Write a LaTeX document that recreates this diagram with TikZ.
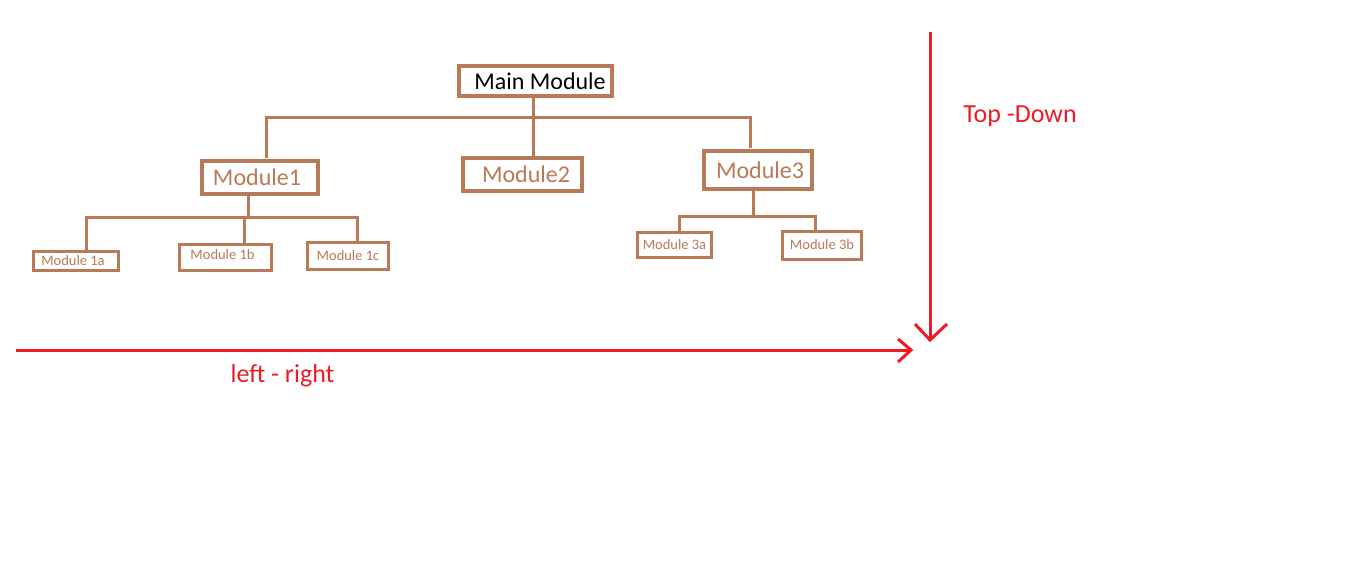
\documentclass[tikz,border=0pt]{standalone}
\usepackage{fontspec}
\setmainfont{Carlito}
\definecolor{brn}{RGB}{185,122,87}
\definecolor{pred}{RGB}{237,28,36}
\tikzset{
  bigbox/.style={draw=brn, line width=4pt, inner sep=0pt, text=brn, font=\fontsize{24}{28}\selectfont},
  smallbox/.style={draw=brn, line width=3pt, inner sep=0pt, text=brn, font=\fontsize{14.5}{17}\selectfont},
  conn/.style={draw=brn, line width=3pt, line cap=rect},
  redline/.style={draw=pred, line width=3pt},
  redtext/.style={text=pred, font=\fontsize{26}{30}\selectfont, inner sep=0pt}
}
\begin{document}
\begin{tikzpicture}[x=1pt,y=-1pt]
\useasboundingbox[fill=white] (0,0) rectangle (1360,575);
% boxes
\node[bigbox, text=black, minimum width=153pt, minimum height=30pt] (main) at (535.5,81) {\hspace*{9pt}Main Module};
\node[bigbox, minimum width=116pt, minimum height=33pt] (m1) at (260,177.5) {Module1\hspace*{6pt}};
\node[bigbox, minimum width=119pt, minimum height=33pt] (m2) at (522.5,174.5) {\hspace*{7pt}Module2};
\node[bigbox, minimum width=108pt, minimum height=38pt] (m3) at (758,170) {\hspace*{4pt}Module3};
\node[smallbox, minimum width=85.5pt, minimum height=19pt] (a1) at (76,261) {Module 1a\hspace*{6pt}};
\node[smallbox, minimum width=92pt, minimum height=26pt, text depth=6pt] (b1) at (225.5,257.5) {Module 1b\hspace*{6pt}};
\node[smallbox, minimum width=81pt, minimum height=27pt] (c1) at (348,256) {Module 1c};
\node[smallbox, minimum width=74pt, minimum height=25pt] (a3) at (674.5,245) {Module 3a};
\node[smallbox, minimum width=79pt, minimum height=28pt, text depth=3pt] (b3) at (822,245.5) {Module 3b};
% junctions
\coordinate (j0) at (533,118);
\coordinate (jL) at (266,118);
\coordinate (jR) at (750,118);
\coordinate (k1) at (248,217);
\coordinate (kL) at (86,217);
\coordinate (kM) at (244,217);
\coordinate (kR) at (357,217);
\coordinate (q1) at (753,216);
\coordinate (qL) at (679,216);
\coordinate (qR) at (815,216);
% connectors
\draw[conn] (j0 |- main.south) -- ([yshift=-2pt]j0 |- m2.north);
\draw[conn] (jL) -- (jR);
\draw[conn] (jL) -- ([yshift=2pt]jL |- m1.north);
\draw[conn] (jR) -- ([yshift=2pt]jR |- m3.north);
\draw[conn] (k1 |- m1.south) -- (k1);
\draw[conn] (kL) -- (kR);
\draw[conn] (kL) -- ([yshift=1.5pt]kL |- a1.north);
\draw[conn] (kM) -- ([yshift=1.5pt]kM |- b1.north);
\draw[conn] (kR) -- ([yshift=1.5pt]kR |- c1.north);
\draw[conn] (q1 |- m3.south) -- (q1);
\draw[conn] (qL) -- (qR);
\draw[conn] (qL) -- ([yshift=1.5pt]qL |- a3.north);
\draw[conn] (qR) -- ([yshift=-1pt]qR |- b3.north);
% red arrows
\coordinate (hs) at (16,350);
\coordinate (he) at (911,350);
\coordinate (vs) at (930,32);
\coordinate (ve) at (930,340);
\draw[redline] (hs) -- (he);
\draw[redline] (898,339) -- (he) -- (898,362);
\draw[redline] (vs) -- (ve);
\draw[redline] (915,324) -- (ve) -- (947,324);
\node[redtext, anchor=base] (td) at (1020,123) {Top -Down};
\node[redtext, anchor=base] (lr) at (282.5,382) {left - right};
\end{tikzpicture}
\end{document}
